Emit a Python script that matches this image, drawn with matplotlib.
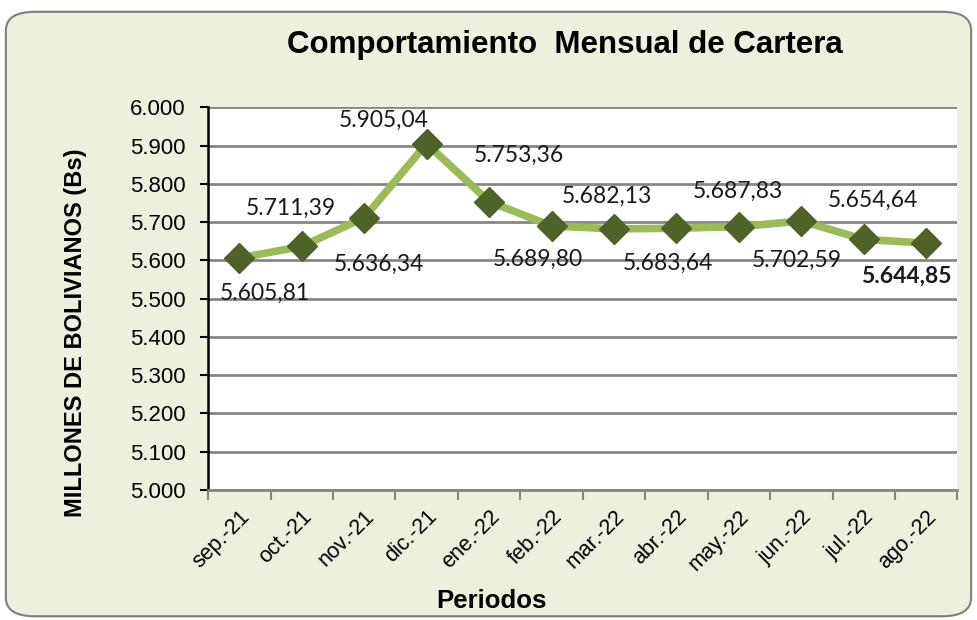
import matplotlib.pyplot as plt
from matplotlib.patches import FancyBboxPatch
from matplotlib.transforms import ScaledTranslation

periodos = ["sep.-21", "oct.-21", "nov.-21", "dic.-21", "ene.-22", "feb.-22",
            "mar.-22", "abr.-22", "may.-22", "jun.-22", "jul.-22", "ago.-22"]
cartera = [5605.81, 5636.34, 5711.39, 5905.04, 5753.36, 5689.80,
           5682.13, 5683.64, 5687.83, 5702.59, 5654.64, 5644.85]

# label offsets in pixels (Excel labels were dragged around by hand)
label_offsets = [(26, -35), (77, -18), (-73, 9), (-43, 23), (30, 46), (-14, -33),
                 (-7, 33), (-8, -35), (-1, 35), (-5, -39), (9, 39), (-20, -33)]


def fmt(v):
    s = f"{v:,.2f}"
    return s.replace(",", "X").replace(".", ",").replace("X", ".")


fig = plt.figure(figsize=(9.77, 6.2), dpi=100)
fig.patch.set_facecolor("white")

box = FancyBboxPatch((0.006, 0.006), 0.988, 0.975, boxstyle="round,pad=0,rounding_size=0.03",
                     transform=fig.transFigure, facecolor="#EBF0DF", edgecolor="#7F7F7F",
                     linewidth=1.5, zorder=-10)
fig.patches.append(box)

ax = fig.add_axes([0.213, 0.21, 0.767, 0.617])
ax.set_facecolor("white")

x = list(range(len(periodos)))
ax.plot(x, cartera, color="#9BBB59", linewidth=5.5, marker="D", markersize=15.5,
        markerfacecolor="#4F6228", markeredgecolor="#4F6228", zorder=3)

for i, v in enumerate(cartera):
    bold = i == len(cartera) - 1
    ax.annotate(fmt(v), (i, v), xytext=label_offsets[i], textcoords="offset pixels",
                ha="center", va="center", fontsize=16.5, family="Lato",
                fontweight="bold" if bold else "normal", color="#1a1a1a", zorder=4)

ax.set_xlim(-0.5, len(periodos) - 0.5)
ax.set_ylim(5000, 6000)
ax.set_yticks(range(5000, 6001, 100))
ax.set_yticklabels([fmt(t)[:-3] for t in range(5000, 6001, 100)],
                   fontsize=16, family="Liberation Sans")
ax.set_xticks([i + 0.5 for i in range(-1, len(periodos))], minor=False)
ax.set_xticklabels([])
ax.set_xticks(x, minor=True)
ax.set_xticklabels(periodos, minor=True, rotation=45, ha="right", rotation_mode="anchor",
                   fontsize=15.5, family="Liberation Sans")
shift = ScaledTranslation(-8 / 100, 0, fig.dpi_scale_trans)
for lbl in ax.get_xticklabels(minor=True):
    lbl.set_transform(lbl.get_transform() + shift)
ax.tick_params(axis="x", which="minor", length=0, pad=12)
ax.tick_params(axis="x", which="major", length=7, width=1.5, color="#868686")
ax.tick_params(axis="y", length=6, width=1.5, color="black", pad=10)

ax.grid(axis="y", color="#868686", linewidth=2)
ax.set_axisbelow(True)
for s in ["top", "right"]:
    ax.spines[s].set_visible(False)
ax.spines["left"].set_color("black")
ax.spines["left"].set_linewidth(1.8)
ax.spines["bottom"].set_color("#868686")
ax.spines["bottom"].set_linewidth(2)

fig.text(0.578, 0.927, "Comportamiento  Mensual de Cartera", ha="center", va="center",
         fontsize=22.5, fontweight="bold", family="Liberation Sans")
fig.text(0.077, 0.464, "MILLONES DE BOLIVIANOS (Bs)", rotation=90, ha="center", va="center",
         fontsize=17, fontweight="bold", family="Liberation Sans")
fig.text(0.503, 0.03, "Periodos", ha="center", va="center",
         fontsize=18.5, fontweight="bold", family="Liberation Sans")

fig.savefig("out.png", dpi=100)
